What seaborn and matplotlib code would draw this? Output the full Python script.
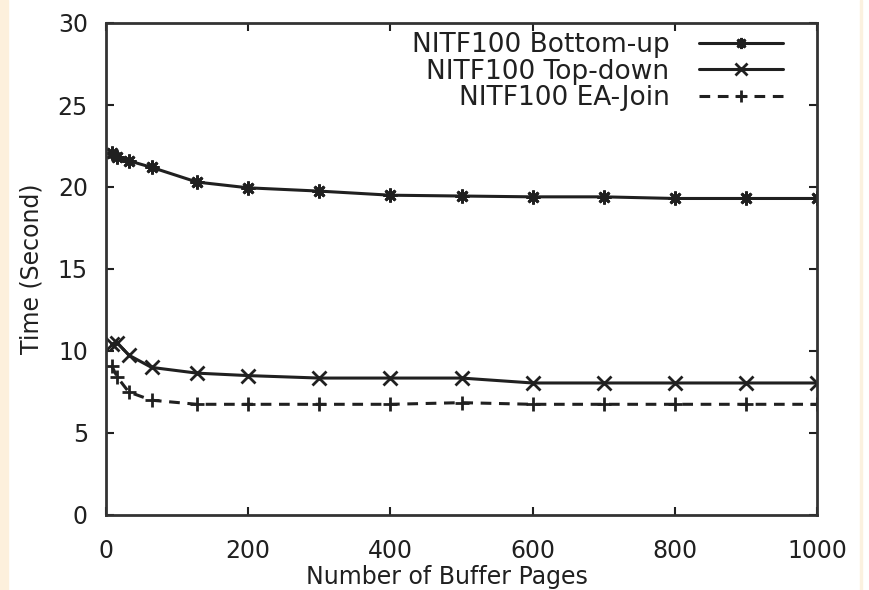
import matplotlib
matplotlib.use("Agg")
import matplotlib.pyplot as plt
from matplotlib.patches import Rectangle
import seaborn as sns
import pandas as pd

buffer_pages = [8, 16, 32, 64, 128, 200, 300, 400, 500, 600, 700, 800, 900, 1000]
bottom_up = [22.05, 21.8, 21.6, 21.2, 20.3, 19.95, 19.75, 19.5, 19.45, 19.4, 19.4, 19.3, 19.3, 19.3]
top_down = [10.4, 10.5, 9.75, 9.0, 8.65, 8.5, 8.35, 8.35, 8.35, 8.05, 8.05, 8.05, 8.05, 8.05]
ea_join = [9.1, 8.4, 7.5, 7.0, 6.75, 6.75, 6.75, 6.75, 6.85, 6.75, 6.75, 6.75, 6.75, 6.75]
series_names = ["NITF100 Bottom-up", "NITF100 Top-down", "NITF100 EA-Join"]
x_ticks = [0, 200, 400, 600, 800, 1000]
y_ticks = [0, 5, 10, 15, 20, 25, 30]

sns.set_style("white")
plt.rcParams["font.family"] = ["DejaVu Sans"]

fig = plt.figure(figsize=(8.69, 5.9), dpi=100)
ax = fig.add_axes([106 / 869, 1 - 515 / 590, (817 - 106) / 869, (515 - 23) / 590])

ink = "#202020"
styles = [
    dict(marker=(8, 2, 0), linestyle="-"),
    dict(marker="x", linestyle="-"),
    dict(marker="+", linestyle=(0, (3.5, 2.5))),
]
for name, vals, st in zip(series_names, [bottom_up, top_down, ea_join], styles):
    df = pd.DataFrame({"pages": buffer_pages, "time": vals})
    sns.lineplot(data=df, x="pages", y="time", ax=ax, color=ink, lw=2.2,
                 marker=st["marker"], linestyle=st["linestyle"], markersize=10,
                 markeredgewidth=2, markeredgecolor=ink, label=name)

ax.set_xlim(0, 1000)
ax.set_ylim(0, 30)
ax.set_xticks(x_ticks)
ax.set_yticks(y_ticks)
ax.tick_params(direction="in", length=6, width=1.5, colors=ink, labelsize=17,
               top=True, right=True, bottom=True, left=True, pad=13)
ax.tick_params(axis="x", pad=17)
for sp in ax.spines.values():
    sp.set_visible(True)
    sp.set_linewidth(2)
    sp.set_color("#333333")
ax.set_xlabel("Number of Buffer Pages", fontsize=17, color=ink, labelpad=0)
ax.set_ylabel("Time (Second)", fontsize=17, color=ink, labelpad=10)
ax.xaxis.set_label_coords(0.48, -0.102)

leg = ax.legend(loc="upper right", bbox_to_anchor=(783 / 869, 1 - 32 / 590),
                bbox_transform=fig.transFigure, frameon=False, markerfirst=False,
                fontsize=19, handlelength=3.2, handletextpad=1.1,
                labelspacing=0.02, borderpad=0, borderaxespad=0)
for t in leg.get_texts():
    t.set_color(ink)
for h in leg.get_lines():
    h.set_markersize(8)

fig.patches.append(Rectangle((0, 0), 8 / 869, 1, transform=fig.transFigure,
                             color="#FDF0DC", zorder=-1))
fig.patches.append(Rectangle((860 / 869, 0), 2 / 869, 1, transform=fig.transFigure,
                             color="#FBF1E0", zorder=-1))

fig.savefig("out.png", dpi=100)
